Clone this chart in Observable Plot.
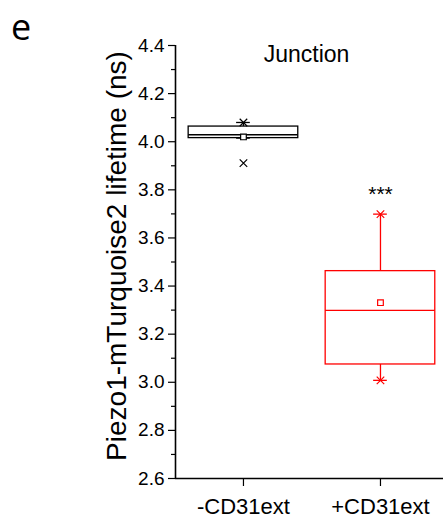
<!DOCTYPE html>
<html><head><meta charset="utf-8">
<script src="https://cdn.jsdelivr.net/npm/d3@7"></script>
<script src="https://cdn.jsdelivr.net/npm/@observablehq/plot@0.6"></script>
<style>
body{margin:0;background:#fff;}
#wrap{position:relative;width:443px;height:520px;}
#panel{position:absolute;left:11px;top:9px;font-family:"Open Sans",sans-serif;font-size:36px;line-height:1;}
</style></head><body>
<div id="wrap"><div id="panel">e</div><div id="chart"></div></div>
<script>
// ---- data ----
const groups = ["-CD31ext", "+CD31ext"];
const colors = ["#000000", "#ff0000"];
const q1 = [4.015, 3.074];
const median = [4.029, 3.299];
const q3 = [4.063, 3.462];
const mean = [4.020, 3.331];
const minVal = [4.015, 3.008];
const maxVal = [4.080, 3.699];
const crossMarks = [[4.080, 3.911], [3.699, 3.008]]; // "x" markers per group
const yTicks = [2.6, 2.8, 3.0, 3.2, 3.4, 3.6, 3.8, 4.0, 4.2, 4.4];
const yMinorTicks = [2.7, 2.9, 3.1, 3.3, 3.5, 3.7, 3.9, 4.1, 4.3];
const yDomain = [2.6, 4.4];
const xDomain = [0.504, 2.46];
const title = "Junction";
const yLabel = "Piezo1-mTurquoise2 lifetime (ns)";
const sigLabels = [{group: 2, y: 3.78, text: "***"}];

// ---- tables built from the arrays ----
const boxes = groups.map((g, i) => ({
  g, x: i + 1, color: colors[i],
  q1: q1[i], median: median[i], q3: q3[i], mean: mean[i], min: minVal[i], max: maxVal[i]
}));
const crosses = crossMarks.flatMap((vals, i) => vals.map(v => ({x: i + 1, y: v, color: colors[i]})));
const caps = boxes.flatMap(b => [{x: b.x, y: b.min, color: b.color}, {x: b.x, y: b.max, color: b.color}]);
const halfW = 0.4, capW = 0.05;

const chart = Plot.plot({
  width: 443, height: 520,
  marginLeft: 175, marginRight: 0, marginTop: 45, marginBottom: 42,
  style: {fontFamily: "'Liberation Sans', Arial, sans-serif", fontSize: "19px", background: "white", overflow: "visible", color: "black"},
  x: {domain: xDomain},
  y: {domain: yDomain},
  color: {type: "identity"},
  marks: [
    Plot.axisY({ticks: yMinorTicks, tickSize: 4, tickFormat: () => "", strokeWidth: 1.2}),
    Plot.axisY({ticks: yTicks, tickSize: 7, tickPadding: 4, tickFormat: d => d.toFixed(1), fontSize: 19, strokeWidth: 1.2, label: null}),
    Plot.axisX({ticks: [1, 2], tickSize: 8, tickPadding: 12, tickFormat: d => groups[d - 1], fontSize: 22, strokeWidth: 1.2, label: null}),
    Plot.ruleX([xDomain[0]], {strokeWidth: 1.6}),
    Plot.ruleY([yDomain[0]], {strokeWidth: 1.6}),
    Plot.ruleX(boxes, {x: "x", y1: "q3", y2: "max", stroke: "color", strokeWidth: 1.3}),
    Plot.ruleX(boxes, {x: "x", y1: "min", y2: "q1", stroke: "color", strokeWidth: 1.3}),
    Plot.rect(boxes, {x1: d => d.x - halfW, x2: d => d.x + halfW, y1: "q1", y2: "q3", stroke: "color", fill: "none", strokeWidth: 1.3}),
    Plot.ruleY(boxes, {y: "median", x1: d => d.x - halfW, x2: d => d.x + halfW, stroke: "color", strokeWidth: 1.3}),
    Plot.ruleY(caps, {y: "y", x1: d => d.x - capW, x2: d => d.x + capW, stroke: "color", strokeWidth: 1.3}),
    Plot.dot(crosses, {x: "x", y: "y", symbol: "times", r: 3.5, stroke: "color", strokeWidth: 1.2}),
    Plot.dot(boxes, {x: "x", y: "mean", symbol: "square", r: 3.2, stroke: "color", fill: "white", strokeWidth: 1.2}),
    Plot.text([title], {frameAnchor: "top", dx: -3, dy: 16, lineAnchor: "bottom", fontSize: 23, text: d => d}),
    Plot.text(sigLabels, {x: "group", y: "y", text: "text", fontSize: 21, lineAnchor: "middle"}),
    Plot.text([yLabel], {frameAnchor: "left", textAnchor: "middle", rotate: -90, dx: -58, dy: -6, lineAnchor: "middle", fontSize: 28, text: d => d})
  ]
});
document.getElementById("chart").appendChild(chart);
</script>
</body></html>
